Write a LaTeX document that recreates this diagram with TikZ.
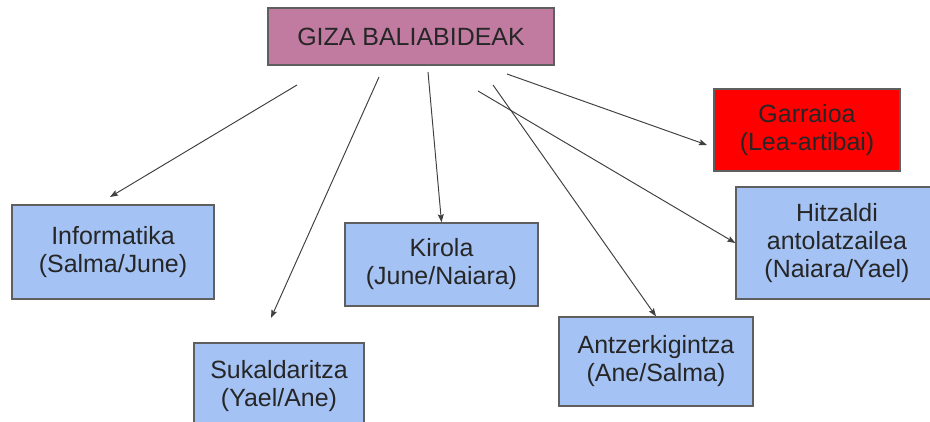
\documentclass[tikz,border=0pt]{standalone}
\usepackage{fontspec}
\setmainfont{Liberation Sans}
\usepackage{xcolor}
\usepackage{tikz}
\usetikzlibrary{arrows.meta}
\definecolor{gizapink}{HTML}{C27BA0}
\definecolor{taskblue}{HTML}{A4C2F4}
\definecolor{edgegray}{HTML}{5F5F5F}

\begin{document}
\begin{tikzpicture}[
    x=0.02cm, y=-0.02cm,
    task/.style={rectangle, draw=edgegray, line width=0.8pt, fill=taskblue, align=center, text=black!85, inner sep=0pt, font=\fontsize{14.2}{15.9}\selectfont},
    arrow/.style={-{Stealth[length=4.6pt, width=3.4pt, inset=0.8pt]}, draw=black!75, line width=0.55pt}
]

\clip (0,0) rectangle (930,422);

\node[task, fill=gizapink, minimum width=5.72cm, minimum height=1.14cm] (giza) at (411,36.5) {GIZA BALIABIDEAK};

\node[task, fill=red, minimum width=3.72cm, minimum height=1.64cm] (garraioa) at (807,130) {
    Garraioa\\
    (Lea-artibai)
};

\node[task, minimum width=4.04cm, minimum height=1.88cm] (informatika) at (113,252) {
    Informatika\\
    (Salma/June)
};

\node[task, minimum width=3.86cm, minimum height=1.66cm] (kirola) at (441.5,264.5) {
    Kirola\\
    (June/Naiara)
};

\node[task, minimum width=3.4cm, minimum height=1.72cm] (sukaldaritza) at (279,386) {
    Sukaldaritza\\
    (Yael/Ane)
};

\node[task, minimum width=3.88cm, minimum height=1.78cm] (antzerki) at (656,361.5) {
    Antzerkigintza\\
    (Ane/Salma)
};

\node[task, minimum width=4.04cm, minimum height=2.24cm] (hitzaldi) at (837,243) {
    Hitzaldi\\
    antolatzailea\\
    (Naiara/Yael)
};

\coordinate (from1) at (297,85);
\coordinate (from2) at (379,77);
\coordinate (from3) at (428,72);
\coordinate (from4) at (478,91);
\coordinate (from5) at (493,85);
\coordinate (from6) at (507,74);
\coordinate (to1) at (110,197);
\coordinate (to2) at (271,318);
\coordinate (to6) at (707,145);

\draw[arrow] (from1) -- (to1);
\draw[arrow] (from2) -- (to2);
\draw[arrow] (from3) -- (kirola.north);
\draw[arrow] (from4) -- (hitzaldi.west);
\draw[arrow] (from5) -- (antzerki.north);
\draw[arrow] (from6) -- (to6);

\end{tikzpicture}
\end{document}
